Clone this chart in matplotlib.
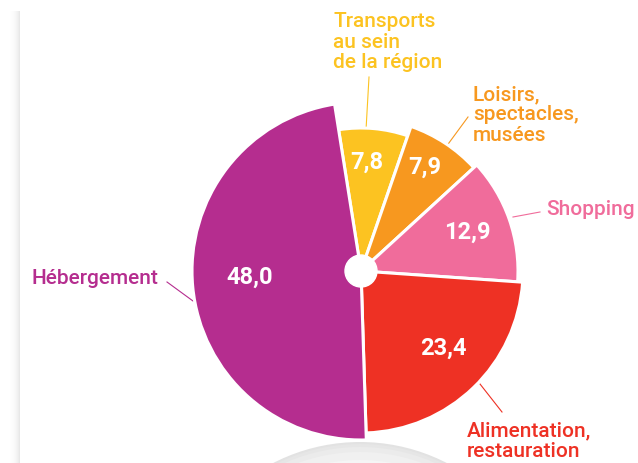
import numpy as np
import matplotlib.pyplot as plt
from matplotlib.patches import Circle

plt.rcParams['font.family'] = ['Roboto', 'DejaVu Sans']

# data (clockwise from the top)
categories = ['Transports\nau sein\nde la région', 'Loisirs,\nspectacles,\nmusées',
              'Shopping', 'Alimentation,\nrestauration', 'Hébergement']
values = [7.8, 7.9, 12.9, 23.4, 48.0]
value_labels = ['7,8', '7,9', '12,9', '23,4', '48,0']
colors = ['#FCC321', '#F7981F', '#F06C9B', '#EE3124', '#B52D8F']
radii = [143, 153, 157, 162, 169]

W, H = 638, 464
cx, cy = 361, H - 272

fig = plt.figure(figsize=(W / 100, H / 100), dpi=100)
ax = fig.add_axes([0, 0, 1, 1])

# faint page shadows
grad = np.linspace(0, 1, 12)[None, :] ** 2
ax.imshow(np.repeat(grad, 2, axis=0), cmap='Greys', vmin=0, vmax=6,
          extent=(8, 20, 0, H - 12), aspect='auto', zorder=0)
for r, c in [(190, '#e2e2e2'), (188, '#e6e6e6'), (185, '#ebebeb'),
             (180, '#f0f0f0'), (172, '#f5f5f5'), (160, '#f9f9f9')]:
    ax.add_patch(Circle((360, H - 633), r, color=c, lw=0, zorder=0))

# one pie per slice so every slice gets its own radius
for i in range(len(values)):
    wedges, _ = ax.pie(values, radius=radii[i], center=(cx, cy), startangle=99,
                       counterclock=False, colors=colors, frame=True,
                       wedgeprops=dict(edgecolor='white', linewidth=2.2))
    for j, w in enumerate(wedges):
        if j != i:
            w.remove()
        else:
            w.set_zorder(2)

ax.add_patch(Circle((cx, cy), 16, color='white', zorder=3))

# values inside the slices
value_pos = [(367, 162), (425, 167), (467, 232), (443, 348), (250, 277)]
for lab, (x, y) in zip(value_labels, value_pos):
    ax.text(x, H - y, lab, color='white', fontsize=17, fontweight='bold',
            ha='center', va='center', zorder=4)

# category labels and leader lines
label_pos = [(333, 42, 'left'), (473, 115, 'left'), (546, 210, 'left'),
             (467, 441, 'left'), (158, 278, 'right')]
leaders = [((369, 78), (366, 131)), ((468, 118), (443, 152)), ((540, 213), (513, 218)),
           ((502, 413), (480, 385)), ((167, 283), (193, 302))]
for cat, col, (x, y, ha), (p0, p1) in zip(categories, colors, label_pos, leaders):
    ax.text(x, H - y, cat, color=col, fontsize=15, fontweight='medium',
            ha=ha, va='center', linespacing=1.08, zorder=4)
    ax.plot([p0[0], p1[0]], [H - p0[1], H - p1[1]], color=col, lw=0.8, zorder=1)

ax.set_xlim(0, W)
ax.set_ylim(0, H)
ax.set_aspect('auto')
ax.axis('off')

fig.savefig('out.png', dpi=100)
